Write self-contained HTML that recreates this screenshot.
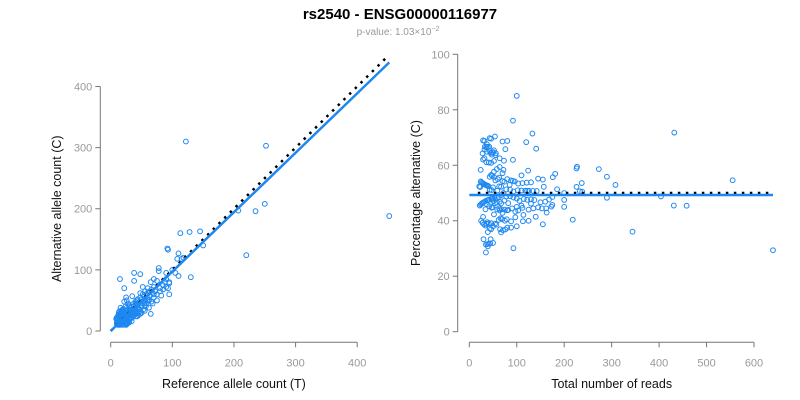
<!DOCTYPE html>
<html><head><meta charset="utf-8">
<style>
body{margin:0;background:#fff;}
svg{display:block;font-family:"Liberation Sans",Arial,sans-serif;}
</style></head>
<body>
<svg id="chart" width="800" height="400" viewBox="0 0 800 400">
<text x="400" y="19" text-anchor="middle" font-size="15" font-weight="bold" fill="#000">rs2540 - ENSG00000116977</text>
<text x="398" y="35" text-anchor="middle" font-size="10" fill="#999">p-value: 1.03×10<tspan dy="-4" font-size="7">−2</tspan></text>
<g id="left"></g>
<g id="right"></g>
</svg>
<script>
const refCounts = [12,13,14,15,16,17,18,19,20,21,22,23,24,25,26,27,28,29,30,12,14,16,18,20,13,11,10,11,12,15,17,19,21,23,25,27,29,31,33,35,37,39,41,43,45,34,36,38,40,42,44,46,48,50,52,54,56,58,60,62,64,66,68,70,72,32,30,28,26,22,24,20,18,16,14,35,38,42,46,50,55,58,62,66,70,75,80,85,88,90,60,57,53,47,44,39,36,33,31,29,27,25,23,21,19,17,15,13,11,10,14,16,18,20,22,24,26,28,30,32,34,36,20,22,24,26,28,30,32,34,36,40,44,48,52,56,60,65,70,40,42,25,27,12,10,11,13,15,17,19,21,23,41,45,50,55,62,68,75,82,85,90,95,
15,22,38,38,48,78,78,92,93,110,113,128,145,122,252,207,235,250,220,452,150,130,110,95,93,108,115,118,90,100,105,95,75,65,48,70,80,60,55,52,48,35,25,30,40,45,
25,20,10,9,12,14,26,28,30,24,11,13,16,30,34,18,20,22,17,27];
const altCounts = [14,11,16,13,18,12,20,15,17,22,14,19,26,16,21,24,18,30,22,20,22,25,28,32,30,18,14,12,10,10,11,12,13,15,14,16,17,19,21,22,25,27,28,24,30,33,36,40,38,44,42,47,45,52,48,56,50,60,55,64,58,68,62,72,65,38,42,45,50,48,40,36,34,38,32,28,30,33,36,40,42,45,50,48,55,60,65,75,80,85,62,40,35,32,38,35,31,26,27,25,22,23,24,19,21,19,17,15,13,11,12,14,16,18,20,22,24,26,28,30,30,28,26,30,34,38,35,33,35,40,44,48,52,55,60,65,70,80,85,45,50,30,33,24,18,22,26,28,30,24,27,29,24,26,30,33,38,45,50,58,68,72,78,
85,70,95,82,93,103,98,135,133,127,160,162,163,310,303,197,196,208,124,188,140,88,90,60,70,118,118,120,95,100,95,80,82,28,28,60,70,50,45,72,62,57,55,40,30,35,
10,10,22,20,25,28,12,13,14,11,21,24,29,15,16,33,35,14,31,12];
const leftXTicks = [0,100,200,300,400];
const leftYTicks = [0,100,200,300,400];
const rightXTicks = [0,100,200,300,400,500,600];
const rightYTicks = [0,20,40,60,80,100];
const leftFitSlope = [0.972];
const rightFitPct = [49.3];
const nullPct = [50];

const NS = "http://www.w3.org/2000/svg";
function mk(parent, tag, attrs, text){
  const e = document.createElementNS(NS, tag);
  for (const k in attrs) e.setAttribute(k, attrs[k]);
  if (text !== undefined) e.textContent = text;
  parent.appendChild(e);
  return e;
}
const BLUE = "#1e88f0";

const lx = v => 110.7 + v * 0.6163;
const ly = v => 331 - v * 0.6113;
const rx = v => 469.3 + v * 0.4745;
const ry = v => 331.7 - v * 2.774;

function axes(g, xf, yf, xt, yt, axisX, axisY, xlab, ylab, ylabX, pre){
  const xa = mk(g, "line", {x1:xf(xt[0]), x2:xf(xt[xt.length-1]), y1:axisY, y2:axisY, stroke:"#777", "stroke-width":1});
  
  
  xt.forEach(t => {
    const tk = mk(g, "line", {x1:xf(t), x2:xf(t), y1:axisY, y2:axisY+5, stroke:"#777"});
    
    
    const tl = mk(g, "text", {x:xf(t), y:axisY+24, "text-anchor":"middle", "font-size":11, fill:"#999"}, t);
    
    
  });
  const ya = mk(g, "line", {x1:axisX, x2:axisX, y1:yf(yt[0]), y2:yf(yt[yt.length-1]), stroke:"#777"});
  
  
  yt.forEach(t => {
    const tk = mk(g, "line", {x1:axisX-5, x2:axisX, y1:yf(t), y2:yf(t), stroke:"#777"});
    
    
    const tl = mk(g, "text", {x:axisX-8, y:yf(t)+4, "text-anchor":"end", "font-size":11, fill:"#999"}, t);
    
    
  });
  const xl = mk(g, "text", {x:(xf(xt[0])+xf(xt[xt.length-1]))/2, y:388, "text-anchor":"middle", "font-size":12.5, fill:"#111"}, xlab);
  
  
  const cy = (yf(yt[0])+yf(yt[yt.length-1]))/2;
  const yl = mk(g, "text", {x:ylabX, y:cy, "text-anchor":"middle", "font-size":12.5, fill:"#111", transform:"rotate(-90 "+ylabX+" "+cy+")"}, ylab);
  
  
}

const L = document.getElementById("left");
const R = document.getElementById("right");
axes(L, lx, ly, leftXTicks, leftYTicks, 100.3, 342.3, "Reference allele count (T)", "Alternative allele count (C)", 61, "left");
axes(R, rx, ry, rightXTicks, rightYTicks, 457.7, 342.3, "Total number of reads", "Percentage alternative (C)", 420, "right");

refCounts.forEach((r, i) => {
  const c = mk(L, "circle", {cx:lx(r), cy:ly(altCounts[i]), r:2.4, fill:"none", stroke:BLUE, "stroke-width":1});
  
  
});
const maxRef = Math.max(...refCounts);
const d1 = mk(L, "line", {x1:lx(0), y1:ly(0), x2:lx(446), y2:ly(446), stroke:"#000", "stroke-width":2.5, "stroke-dasharray":"2.5 5.5"});


const f1 = mk(L, "line", {x1:lx(0), y1:ly(0), x2:lx(maxRef), y2:ly(maxRef*leftFitSlope[0]), stroke:BLUE, "stroke-width":2.5});



const totals = refCounts.map((r, i) => r + altCounts[i]);
totals.forEach((t, i) => {
  const c = mk(R, "circle", {cx:rx(t), cy:ry(altCounts[i]/t*100), r:2.4, fill:"none", stroke:BLUE, "stroke-width":1});
  
  
});
const maxT = Math.max(...totals);
const d2 = mk(R, "line", {x1:rx(18), y1:ry(nullPct[0]), x2:rx(maxT), y2:ry(nullPct[0]), stroke:"#000", "stroke-width":2.5, "stroke-dasharray":"2.5 5.5"});


const f2 = mk(R, "line", {x1:rx(0), y1:ry(rightFitPct[0]), x2:rx(maxT), y2:ry(rightFitPct[0]), stroke:BLUE, "stroke-width":2.5});


</script>
</body></html>
